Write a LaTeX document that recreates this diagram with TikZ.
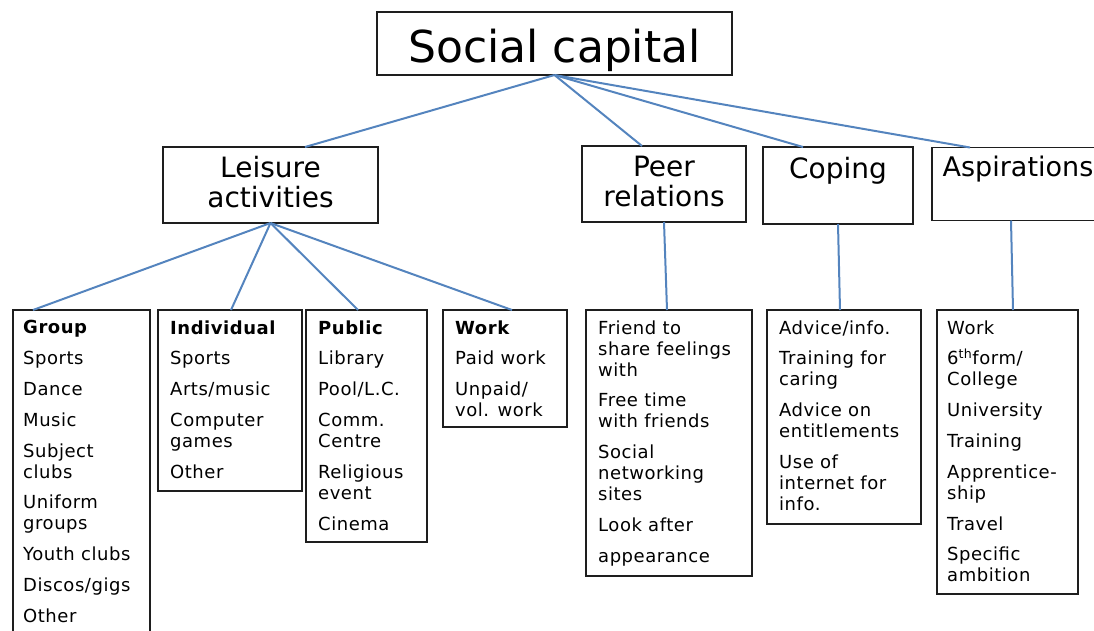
\documentclass[tikz,border=0pt]{standalone}
\usepackage{fontspec}
\setmainfont{DejaVu Sans}
\definecolor{linkblue}{RGB}{84,132,190}
\definecolor{boxline}{RGB}{30,30,30}
\newcommand\scTitleFont{\fontsize{44}{50}\selectfont}
\newcommand\scHeadFont{\fontsize{28}{30}\selectfont}
\newcommand\scListFont{\fontsize{18}{21}\selectfont\addfontfeatures{LetterSpace=3}}
% strut for two-line headings: height 24pt, depth 6pt
\newcommand\hstrut{\rule[-6pt]{0pt}{24pt}}
\tikzset{
  box/.style={draw=boxline, line width=1.5pt, rectangle, inner sep=0pt, outer sep=0pt},
  head/.style={box, font=\scHeadFont, align=center},
  items/.style={anchor=north west, inner sep=0pt, align=left, font=\scListFont,
                execute at begin node=\strut},
  link/.style={draw=linkblue, line width=2pt},
}
\begin{document}
\begin{tikzpicture}[x=1pt,y=-1pt]
\useasboundingbox (0,0) rectangle (1094,630);
\clip (0,0) rectangle (1094,630);

% root
\node[box, minimum width=355pt, minimum height=63pt, font=\scTitleFont,
      text height=38pt, text depth=0pt] (sc) at (554.5,43.5) {Social capital};

% second level
\node[head, minimum width=215pt, minimum height=76pt] (leisure) at (270.5,185)
  {\hstrut Leisure\\\hstrut activities};
\node[head, minimum width=164pt, minimum height=76pt] (peer) at (664,184)
  {\hstrut Peer\\\hstrut relations};
\node[head, minimum width=150pt, minimum height=77pt] (coping) at (838,185.5)
  {\hstrut Coping\\\hstrut};
\node[head, minimum width=172pt, minimum height=73pt] (asp) at (1018,184)
  {\fontsize{27}{30}\selectfont\hstrut Aspirations\\\hstrut};

% third level boxes
\node[box, minimum width=137pt, minimum height=340pt] (group)    at (81.5,480) {};
\node[box, minimum width=144pt, minimum height=181pt] (indiv)    at (230,400.5) {};
\node[box, minimum width=121pt, minimum height=232pt] (public)   at (366.5,426) {};
\node[box, minimum width=124pt, minimum height=117pt] (work)     at (505,368.5) {};
\node[box, minimum width=166pt, minimum height=266pt] (peerlist) at (669,443) {};
\node[box, minimum width=154pt, minimum height=214pt] (copelist) at (844,417) {};
\node[box, minimum width=141pt, minimum height=284pt] (asplist)  at (1007.5,452) {};

% lists
\node[items] (gtext) at ([xshift=10pt,yshift=-10.3pt]group.north west)
  {\textbf{Group}\\[9.8pt]Sports\\[9.8pt]Dance\\[9.8pt]Music\\[9.8pt]Subject\\clubs\\[9.8pt]%
   Uniform\\groups\\[9.8pt]Youth clubs\\[9.8pt]Discos/gigs\\[9.8pt]Other};
\node[items] (itext) at ([xshift=12pt,yshift=-10.3pt]indiv.north west)
  {\textbf{Individual}\\[9.8pt]Sports\\[9.8pt]Arts/music\\[9.8pt]Computer\\games\\[9.8pt]Other};
\node[items] (ptext) at ([xshift=12pt,yshift=-10.3pt]public.north west)
  {\textbf{Public}\\[9.8pt]Library\\[9.8pt]Pool/L.C.\\[9.8pt]Comm.\\Centre\\[9.8pt]%
   Religious\\event\\[9.8pt]Cinema};
\node[items] (wtext) at ([xshift=12pt,yshift=-10.3pt]work.north west)
  {\textbf{Work}\\[9.8pt]Paid work\\[9.8pt]Unpaid/\\vol. work};
\node[items] (prtext) at ([xshift=12pt,yshift=-10.3pt]peerlist.north west)
  {Friend to\\share feelings\\with\\[9.8pt]Free time\\with friends\\[9.8pt]%
   Social\\networking\\sites\\[9.8pt]Look after\\[9.8pt]appearance};
\node[items] (ctext) at ([xshift=12pt,yshift=-10.3pt]copelist.north west)
  {Advice/info.\\[9.8pt]Training for\\caring\\[9.8pt]Advice on\\entitlements\\[9.8pt]%
   Use of\\internet for\\info.};
\node[items] (atext) at ([xshift=10pt,yshift=-10.3pt]asplist.north west)
  {Work\\[9.8pt]6\textsuperscript{th}form/\\College\\[9.8pt]University\\[9.8pt]Training\\[9.8pt]%
   Apprentice-\\ship\\[9.8pt]Travel\\[9.8pt]Specific\\ambition};

% connectors from the root
\draw[link] (sc.south) -- ([xshift=142pt]leisure.north west);
\draw[link] (sc.south) -- ([xshift=60pt]peer.north west);
\draw[link] (sc.south) -- ([xshift=40pt]coping.north west);
\draw[link] (sc.south) -- ([xshift=38pt]asp.north west);

% connectors from leisure activities
\draw[link] (leisure.south) -- ([xshift=20pt]group.north west);
\draw[link] (leisure.south) -- ([xshift=73pt]indiv.north west);
\draw[link] (leisure.south) -- ([xshift=52pt]public.north west);
\draw[link] (leisure.south) -- ([xshift=69pt]work.north west);

% single lists
\draw[link] (peer.south) -- ([xshift=81pt]peerlist.north west);
\draw[link] (coping.south) -- ([xshift=73pt]copelist.north west);
\draw[link] ([xshift=79pt]asp.south west) -- ([xshift=76pt]asplist.north west);
\end{tikzpicture}
\end{document}
